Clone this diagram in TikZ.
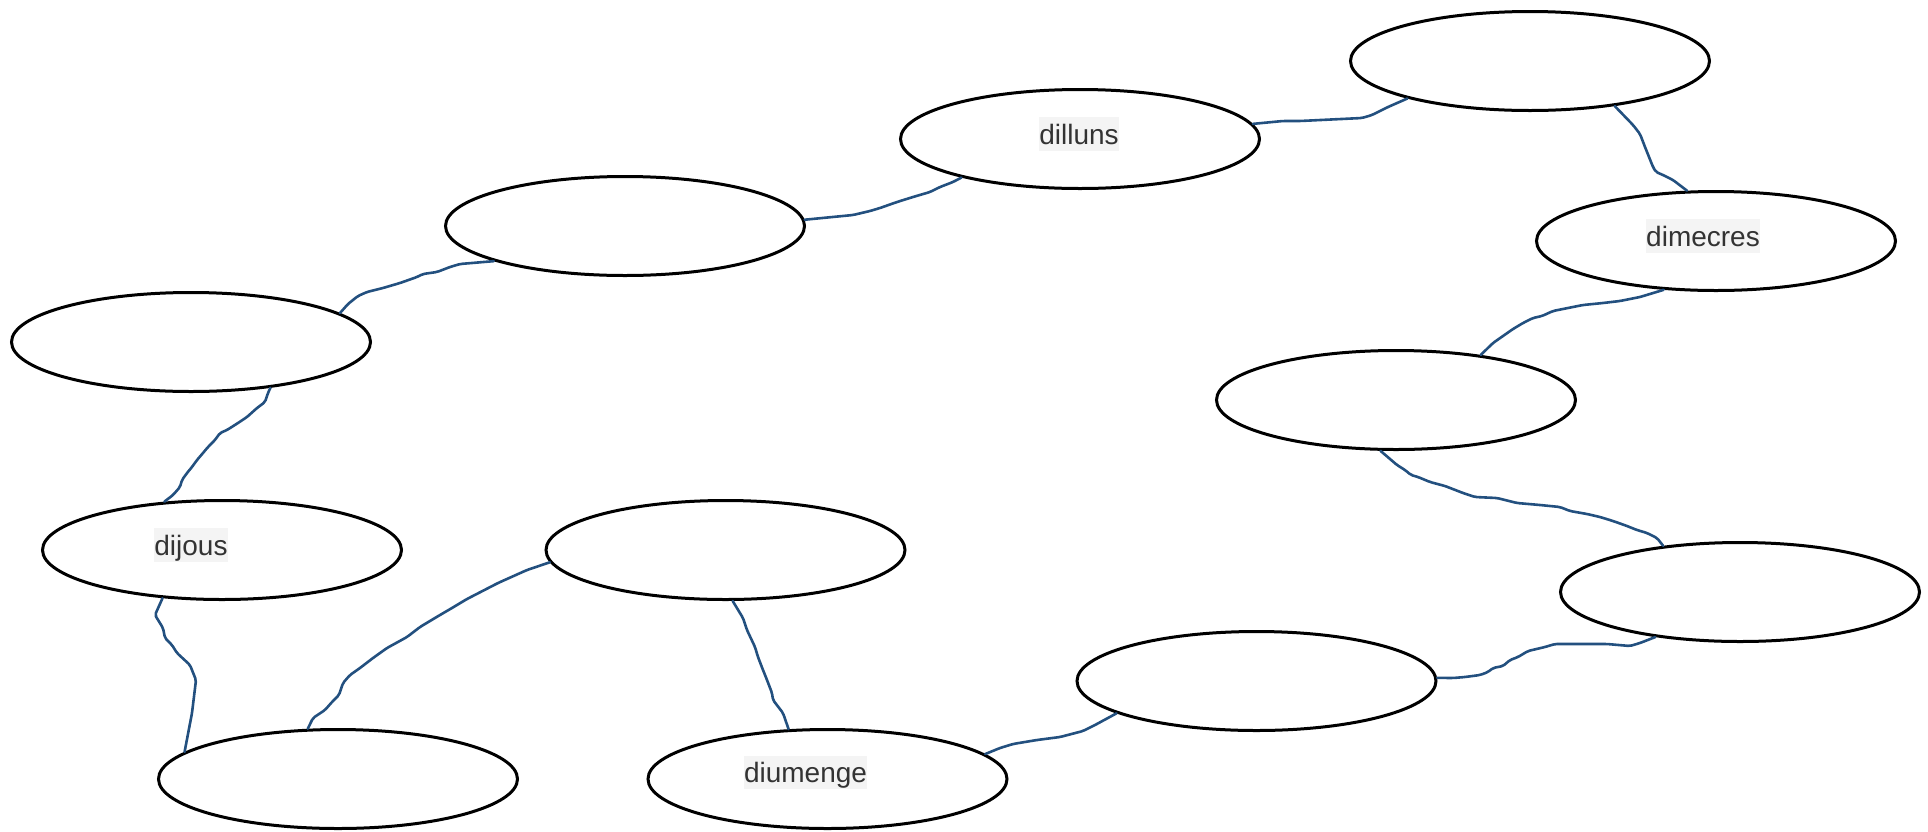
\documentclass[tikz,border=0pt]{standalone}
\usepackage{fontspec}
\setmainfont{Liberation Sans}
\usetikzlibrary{shapes.geometric}
\definecolor{wire}{RGB}{35,80,127}
\definecolor{tagbg}{RGB}{244,244,244}
\definecolor{tagfg}{RGB}{51,51,51}

\begin{document}
\begin{tikzpicture}[x=0.5pt, y=-0.5pt,
  day/.style={draw, ellipse, line width=1.5pt, inner sep=0pt, minimum width=179.5pt, minimum height=49.5pt},
  tag/.style={fill=tagbg, text=tagfg, inner sep=0pt, text height=13.5pt, text depth=3.3pt, font=\fontsize{14}{16}\selectfont},
  link/.style={draw=wire, line width=1.3pt, line join=round, line cap=round, rounded corners=1pt}]
\useasboundingbox (0,0) rectangle (1928,831);
\node [day] (b1) at (1530, 61) {};
\node [day] (dilluns) at (1080, 139) {};
\node [day] (b2) at (625, 226) {};
\node [day] (b3) at (191, 342) {};
\node [day] (dijous) at (222, 550) {};
\node [day] (b4) at (725.5, 550) {};
\node [day] (b5) at (338, 779) {};
\node [day] (diumenge) at (827.5, 779) {};
\node [day] (b6) at (1256.5, 681) {};
\node [day] (b7) at (1740, 592) {};
\node [day] (b8) at (1396, 400) {};
\node [day] (dimecres) at (1716, 241) {};
\node [tag] (tdilluns) at (1079, 134) {dilluns};
\node [tag] (tdijous) at (191, 545) {dijous};
\node [tag] (tdimecres) at (1703, 236) {dimecres};
\node [tag] (tdiumenge) at (805.5, 772.5) {diumenge};
\draw [link] (dilluns.5) -- (1283,121) -- (1300,121) -- (1362,118) -- (1372,115) -- (1388,107) -- (b1.197);
\draw [link] (b1.-28) -- (1633,125) -- (1640,134) -- (1645,147) -- (1649,157) -- (1653,167) -- (1656,172) -- (1663,175) -- (1673,180) -- (dimecres.120);
\draw [link] (dimecres.-137) -- (1640,297) -- (1620,301) -- (1603,303) -- (1583,305) -- (1573,307) -- (1553,311) -- (1542,316) -- (1533,318) -- (1523,323) -- (1513,329) -- (1503,336) -- (1493,343) -- (b8.28);
\draw [link] (b8.-107) -- (1397,465) -- (1405,470) -- (1411,475) -- (1418,477) -- (1430,482) -- (1445,486) -- (1463,493) -- (1475,497) -- (1497,498) -- (1517,503) -- (1540,505) -- (1560,507) -- (1570,511) -- (1587,514) -- (1600,517) -- (1613,521) -- (1627,526) -- (1637,530) -- (1647,533) -- (1657,538) -- (b7.149);
\draw [link] (b7.208) -- (1640,643) -- (1630,646) -- (1607,644) -- (1573,644) -- (1555,644) -- (1545,647) -- (1528,651) -- (1518,657) -- (1510,660) -- (1503,666) -- (1493,668) -- (1488,672) -- (1480,675) -- (1465,677) -- (1453,678) -- (b6.1);
\draw [link] (b6.193) -- (1095,725) -- (1083,731) -- (1060,737) -- (1037,740) -- (1013,744) -- (1000,748) -- (diumenge.9);
\draw [link] (diumenge.128) -- (783,713) -- (773,700) -- (772,693) -- (767,680) -- (763,670) -- (758,657) -- (755,647) -- (747,630) -- (743,618) -- (b4.-82);
\draw [link] (b4.184) -- (527,570) -- (498,583) -- (467,599) -- (452,608) -- (440,615) -- (420,627) -- (407,637) -- (387,648) -- (373,658) -- (360,668) -- (350,675) -- (343,683) -- (339,695) -- (332,702) -- (325,710) -- (313,718) -- (b5.121);
\draw [link] (b5.170) -- (192,713) -- (196,680) -- (190,665) -- (177,653) -- (172,645) -- (165,638) -- (163,628) -- (155,615) -- (dijous.219);
\draw [link] (dijous.140) -- (173,495) -- (180,487) -- (182,480) -- (187,473) -- (192,467) -- (197,460) -- (203,453) -- (208,447) -- (215,440) -- (220,433) -- (227,430) -- (238,423) -- (247,417) -- (257,408) -- (265,402) -- (268,393) -- (b3.-30);
\draw [link] (b3.11) -- (348,304) -- (358,296) -- (367,292) -- (383,288) -- (400,283) -- (417,277) -- (423,274) -- (437,272) -- (450,267) -- (460,264) -- (b2.195);
\draw [link] (b2.2) -- (853,215) -- (870,211) -- (880,208) -- (897,202) -- (913,197) -- (930,192) -- (940,187) -- (953,182) -- (dilluns.198);
\end{tikzpicture}
\end{document}
